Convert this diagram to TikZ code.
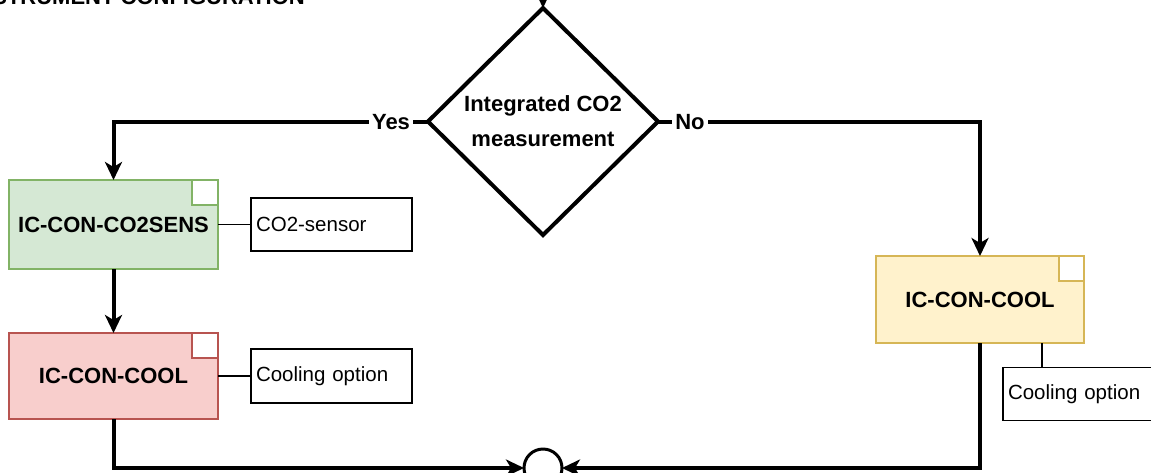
\documentclass[tikz,border=0pt]{standalone}
\usepackage{fontspec}
\setmainfont{Liberation Sans}
\usetikzlibrary{arrows.meta,shapes.geometric,calc}
\definecolor{gfill}{HTML}{D5E8D4}
\definecolor{gdraw}{HTML}{82B366}
\definecolor{rfill}{HTML}{F8CECC}
\definecolor{rdraw}{HTML}{B85450}
\definecolor{yfill}{HTML}{FFF2CC}
\definecolor{ydraw}{HTML}{D6B656}
\tikzset{
  bigfont/.style={font=\bfseries\fontsize{22}{35}\selectfont},
  smallfont/.style={font=\fontsize{20.5}{24}\selectfont},
  flow/.style={line width=4pt, -{Stealth[length=18pt,width=17pt,inset=5pt]}},
  plainflow/.style={line width=4pt},
  thin/.style={line width=1.3pt},
  modbox/.style={rectangle, line width=2.5pt, minimum width=209pt, inner sep=0pt, outer sep=0pt, bigfont},
  notebox/.style={rectangle, draw=black, line width=1.3pt, fill=white, inner xsep=5pt, inner ysep=0pt, text width=151pt, align=left, smallfont, outer sep=0pt},
  corner/.style={fill=white, line width=2.5pt},
  lbl/.style={fill=white, inner xsep=3pt, inner ysep=2pt, bigfont},
}
\begin{document}
\begin{tikzpicture}[x=1pt,y=-1pt]
\useasboundingbox (0,0) rectangle (1151,472);
\clip (0,0) rectangle (1151,472);
\fill[white] (0,0) rectangle (1151,472);

% title (partly cut off)
\node[anchor=base east, inner sep=0pt, font=\bfseries\fontsize{22}{26}\selectfont] (title) at (305,4.5) {INSTRUMENT CONFIGURATION};

% decision
\node[diamond, draw=black, line width=4pt, fill=white, minimum width=230pt, minimum height=227pt, inner sep=0pt, outer sep=0pt, align=center, bigfont] (d) at (543,121.5) {Integrated CO2\\measurement};
\coordinate (start) at (543,-30);

% module boxes
\node[modbox, draw=gdraw, fill=gfill, minimum height=89pt] (g) at (113.5,224.5) {IC-CON-CO2SENS};
\draw[corner, draw=gdraw] ([xshift=-26pt]g.north east) rectangle ([yshift=-25pt]g.north east);
\node[modbox, draw=rdraw, fill=rfill, minimum height=86pt] (r) at (113.5,376) {IC-CON-COOL};
\draw[corner, draw=rdraw] ([xshift=-26pt]r.north east) rectangle ([yshift=-25pt]r.north east);
\node[modbox, draw=ydraw, fill=yfill, minimum width=208pt, minimum height=87pt] (yb) at (980,299.5) {IC-CON-COOL};
\draw[corner, draw=ydraw] ([xshift=-25pt]yb.north east) rectangle ([yshift=-25pt]yb.north east);

% notes
\node[notebox, minimum height=53pt] (s1) at (331.5,224.5) {CO2-sensor};
\node[notebox, minimum height=54pt] (s2) at (331.5,376) {Cooling option};
\node[notebox, minimum height=53pt, text width=147pt] (s3) at (1081.5,394) {Cooling option};

% join circle
\node[circle, draw=black, line width=3pt, fill=white, minimum size=38pt, inner sep=0pt, outer sep=0pt] (c) at (543,468) {};

% connectors
\draw[flow] (start) -- (d.north);
\draw[flow] (d.west) -| (g.north);
\draw[flow] (d.east) -| (yb.north);
\draw[flow] (g.south) -- (r.north);
\draw[flow] (r.south) |- (c.west);
\draw[flow] (yb.south) |- (c.east);
\draw[thin] (g.east) -- (s1.west);
\draw[thin] (r.east) -- (s2.west);
\draw[thin] ([xshift=62pt]yb.south) -- ([xshift=62pt]yb.south |- s3.north);

% branch labels
\node[lbl] (yes) at (391,122) {Yes};
\node[lbl] (no) at (690,122) {No};
\end{tikzpicture}
\end{document}
